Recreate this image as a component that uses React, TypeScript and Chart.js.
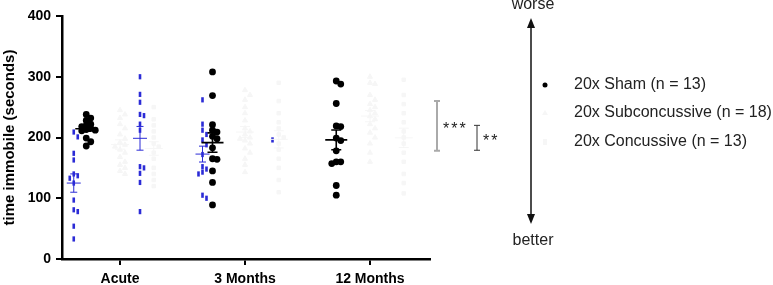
import React, { useEffect, useRef } from "react";
import { Chart, registerables } from "chart.js";
Chart.register(...registerables);

const categories = ["Acute", "3 Months", "12 Months"];
const yTickValues = [0, 100, 200, 300, 400];

// Sham (black dots)
const shamAcute = [238, 232, 228, 222, 220, 218, 215, 213, 212, 211, 199, 193, 186];
const sham3M = [308, 269, 221, 212, 209, 202, 198, 183, 165, 164, 145, 126, 89];
const sham12M = [293, 288, 256, 219, 218, 199, 195, 178, 160, 157, 160, 121, 105];
// blue dash groups
const blueLeftAcute = [209, 201, 174, 163, 140, 137, 133, 125, 97, 81, 78, 54, 33];
const blueLeft3M = [262, 222, 212, 205, 196, 188, 172, 152, 148, 143, 140, 105, 100];
const blueRightAcute = [300, 271, 258, 238, 236, 222, 212, 152, 150, 141, 126, 78];
const blueRight3M = [196];
// faint (almost invisible) groups
const subAcute = [245, 238, 232, 222, 215, 205, 198, 192, 188, 185, 180, 175, 168, 160, 155, 150, 145, 140];
const sub3M = [278, 270, 262, 250, 240, 228, 215, 210, 205, 200, 198, 195, 190, 182, 175, 165, 155, 143];
const sub12M = [300, 290, 288, 270, 262, 255, 250, 245, 240, 235, 230, 222, 215, 208, 200, 190, 175, 160];
const conAcute = [250, 230, 220, 210, 200, 190, 185, 175, 165, 150, 140, 130, 120];
const con3M = [290, 260, 240, 225, 215, 205, 200, 190, 180, 165, 150, 130, 110];
const con12M = [295, 270, 255, 240, 225, 210, 200, 190, 175, 160, 140, 125, 108];

const legendLabels = ["20x Sham (n = 13)", "20x Subconcussive (n = 18)", "20x Concussive (n = 13)"];
const sigTop = [260, 220];
const sigBottom = [178, 179];
const sigLabels = ["***", "**"];

const FONT = "'Liberation Sans', Arial, sans-serif";
const BLUE = "#2b2bd6";
const FAINT = "#f6f6f6";
const X_PX = 125;
const Y_PX = 243 / 400;

type Group = {
  name: string;
  values: (number[] | null)[];
  offsets: number[];
  color: string;
  style: string;
  radius: number;
  rotation: number;
  border: number;
  step: number;
  collX: number;
  collY: number;
  order: number;
  err: { half: number; cap: number; lw: number } | null;
};

const groups: Group[] = [
  { name: "sub", values: [subAcute, sub3M, sub12M], offsets: [0, 0, 0], color: FAINT, style: "triangle", radius: 3, rotation: 0, border: 1, step: 5, collX: 5, collY: 5, order: 5, err: { half: 9, cap: 5, lw: 1 } },
  { name: "con", values: [conAcute, con3M, con12M], offsets: [0.27, 0.27, 0.27], color: FAINT, style: "rect", radius: 2.5, rotation: 0, border: 1, step: 5, collX: 5, collY: 5, order: 4, err: { half: 9, cap: 5, lw: 1 } },
  { name: "blueR", values: [blueRightAcute, blueRight3M, null], offsets: [0.16, 0.22, 0], color: BLUE, style: "line", radius: 2.6, rotation: 90, border: 2.6, step: 4, collX: 4, collY: 5, order: 3, err: { half: 7, cap: 3.5, lw: 1 } },
  { name: "blueL", values: [blueLeftAcute, blueLeft3M, null], offsets: [-0.37, -0.34, 0], color: BLUE, style: "line", radius: 2.6, rotation: 90, border: 2.6, step: 4, collX: 4, collY: 5, order: 2, err: { half: 7, cap: 3.5, lw: 1 } },
  { name: "sham", values: [shamAcute, sham3M, sham12M], offsets: [-0.27, -0.26, -0.27], color: "#000", style: "circle", radius: 3.4, rotation: 0, border: 0, step: 4.5, collX: 4.5, collY: 4, order: 1, err: { half: 11, cap: 5, lw: 1.6 } },
];

function swarm(values: number[], center: number, g: Group) {
  const placed: { px: number; py: number }[] = [];
  const out: { x: number; y: number }[] = [];
  const idx = values.map((_, i) => i).sort((a, b) => values[b] - values[a]);
  for (const i of idx) {
    const py = values[i] * Y_PX;
    let k = 0;
    let px = 0;
    for (;;) {
      const m = Math.ceil(k / 2);
      const cand = k === 0 ? 0 : k % 2 === 1 ? m * g.step : -m * g.step;
      if (!placed.some((p) => Math.abs(p.px - cand) < g.collX && Math.abs(p.py - py) < g.collY)) {
        px = cand;
        break;
      }
      k++;
    }
    placed.push({ px, py });
    out.push({ x: center + px / X_PX, y: values[i] });
  }
  return out;
}

function stats(v: number[]) {
  const n = v.length;
  const mean = v.reduce((a, b) => a + b, 0) / n;
  const sd = Math.sqrt(v.reduce((a, b) => a + (b - mean) * (b - mean), 0) / (n - 1));
  return { mean, sem: sd / Math.sqrt(n) };
}

const errPlugin = {
  id: "errbars",
  afterDatasetsDraw(chart: any) {
    const ctx = chart.ctx;
    const xs = chart.scales.x;
    const ys = chart.scales.y;
    ctx.save();
    for (const g of groups) {
      if (!g.err) continue;
      g.values.forEach((vals, ci) => {
        if (!vals || vals.length < 2) return;
        const { mean, sem } = stats(vals);
        const cx = xs.getPixelForValue(ci + 1 + g.offsets[ci]);
        const ym = ys.getPixelForValue(mean);
        const yt = ys.getPixelForValue(mean + sem);
        const yb = ys.getPixelForValue(mean - sem);
        ctx.strokeStyle = g.color;
        ctx.lineWidth = g.err!.lw;
        ctx.beginPath();
        ctx.moveTo(cx - g.err!.half, ym);
        ctx.lineTo(cx + g.err!.half, ym);
        ctx.moveTo(cx, yt);
        ctx.lineTo(cx, yb);
        ctx.moveTo(cx - g.err!.cap, yt);
        ctx.lineTo(cx + g.err!.cap, yt);
        ctx.moveTo(cx - g.err!.cap, yb);
        ctx.lineTo(cx + g.err!.cap, yb);
        ctx.stroke();
      });
    }
    ctx.restore();
  },
};

const annoPlugin = {
  id: "anno",
  afterDraw(chart: any) {
    const ctx = chart.ctx;
    const ys = chart.scales.y;
    const right = chart.chartArea.right;
    ctx.save();
    // significance brackets
    const bx = [right + 7, right + 47];
    const bcol = ["#aaaaaa", "#333333"];
    const blw = [2, 1];
    const bcap = [3, 3];
    sigLabels.forEach((lab, i) => {
      const t = ys.getPixelForValue(sigTop[i]);
      const b = ys.getPixelForValue(sigBottom[i]);
      ctx.strokeStyle = bcol[i];
      ctx.lineWidth = blw[i];
      ctx.beginPath();
      ctx.moveTo(bx[i], t);
      ctx.lineTo(bx[i], b);
      ctx.moveTo(bx[i] - bcap[i], t);
      ctx.lineTo(bx[i] + bcap[i], t);
      ctx.moveTo(bx[i] - bcap[i], b);
      ctx.lineTo(bx[i] + bcap[i], b);
      ctx.stroke();
      ctx.fillStyle = "#222";
      ctx.font = `16px ${FONT}`;
      ctx.textAlign = "left";
      ctx.textBaseline = "middle";
      try {
        (ctx as any).letterSpacing = "2px";
      } catch (e) {}
      ctx.fillText(lab, bx[i] + 6, (t + b) / 2 + 4);
      try {
        (ctx as any).letterSpacing = "0px";
      } catch (e) {}
    });
    // worse/better arrow
    const ax = right + 101;
    const top = 18;
    const bot = 224;
    ctx.strokeStyle = "#111";
    ctx.fillStyle = "#111";
    ctx.lineWidth = 1.5;
    ctx.beginPath();
    ctx.moveTo(ax, top + 8);
    ctx.lineTo(ax, bot - 8);
    ctx.stroke();
    ctx.beginPath();
    ctx.moveTo(ax, top);
    ctx.lineTo(ax - 4, top + 10);
    ctx.lineTo(ax + 4, top + 10);
    ctx.closePath();
    ctx.fill();
    ctx.beginPath();
    ctx.moveTo(ax, bot);
    ctx.lineTo(ax - 4, bot - 10);
    ctx.lineTo(ax + 4, bot - 10);
    ctx.closePath();
    ctx.fill();
    ctx.font = `16px ${FONT}`;
    ctx.textAlign = "center";
    ctx.textBaseline = "middle";
    ctx.fillStyle = "#222";
    ctx.fillText("worse", ax + 2, 5);
    ctx.fillText("better", ax + 2, 241);
    // legend
    const lx = right + 115;
    const tx = right + 144;
    const ly = [85, 113, 142];
    ctx.fillStyle = "#000";
    ctx.beginPath();
    ctx.arc(lx, ly[0], 2.5, 0, Math.PI * 2);
    ctx.fill();
    ctx.fillStyle = FAINT;
    ctx.beginPath();
    ctx.moveTo(lx, ly[1] - 3);
    ctx.lineTo(lx - 3, ly[1] + 2);
    ctx.lineTo(lx + 3, ly[1] + 2);
    ctx.closePath();
    ctx.fill();
    ctx.fillRect(lx - 2, ly[2] - 3, 4, 6);
    ctx.fillStyle = "#222";
    ctx.textAlign = "left";
    ctx.font = `16px ${FONT}`;
    legendLabels.forEach((l, i) => ctx.fillText(l, tx, ly[i]));
    ctx.restore();
  },
};

export default function App() {
  const ref = useRef<HTMLCanvasElement>(null);
  useEffect(() => {
    document.body.style.margin = "0";
    const datasets: any[] = groups.map((g) => {
      const data: { x: number; y: number }[] = [];
      g.values.forEach((vals, ci) => {
        if (vals) data.push(...swarm(vals, ci + 1 + g.offsets[ci], g));
      });
      return {
        label: g.name,
        data,
        order: g.order,
        showLine: false,
        pointStyle: g.style,
        pointRadius: g.radius,
        pointRotation: g.rotation,
        pointBackgroundColor: g.color,
        pointBorderColor: g.color,
        pointBorderWidth: g.border,
        pointHoverRadius: g.radius,
      };
    });
    const chart = new Chart(ref.current!, {
      type: "scatter",
      data: { datasets },
      options: {
        animation: false,
        responsive: false,
        events: [],
        layout: { padding: { top: 16, right: 343, left: 0, bottom: 0 } },
        plugins: { legend: { display: false }, tooltip: { enabled: false } },
        scales: {
          x: {
            type: "linear",
            min: 0.536,
            max: 3.48,
            afterFit: (s: any) => {
              s.height = 26;
            },
            afterBuildTicks: (s: any) => {
              s.ticks = categories.map((_, i) => ({ value: i + 1 }));
            },
            ticks: {
              callback: (v: any) => categories[Math.round(Number(v)) - 1] ?? "",
              color: "#000",
              font: { family: FONT, size: 14, weight: "bold" },
              padding: 6,
              maxRotation: 0,
              autoSkip: false,
            },
            grid: { display: true, drawOnChartArea: false, drawTicks: true, tickLength: 6, color: "#000", lineWidth: 2 },
            border: { display: true, color: "#000", width: 2.5 },
          },
          y: {
            type: "linear",
            min: 0,
            max: 400,
            afterFit: (s: any) => {
              s.width = 62;
            },
            afterBuildTicks: (s: any) => {
              s.ticks = yTickValues.map((v) => ({ value: v }));
            },
            ticks: {
              color: "#000",
              font: { family: FONT, size: 14, weight: "bold" },
              padding: 5,
            },
            title: {
              display: true,
              text: "time immobile (seconds)",
              color: "#000",
              font: { family: FONT, size: 15, weight: "bold" },
              padding: { top: 1, bottom: 0 },
            },
            grid: { display: true, drawOnChartArea: false, drawTicks: true, tickLength: 6, color: "#000", lineWidth: 2 },
            border: { display: true, color: "#000", width: 2.5 },
          },
        },
      },
      plugins: [errPlugin, annoPlugin],
    });
    return () => chart.destroy();
  }, []);
  return (
    <div style={{ width: 773, height: 285, background: "#fff" }}>
      <canvas ref={ref} width={773} height={285} style={{ display: "block" }} />
    </div>
  );
}
